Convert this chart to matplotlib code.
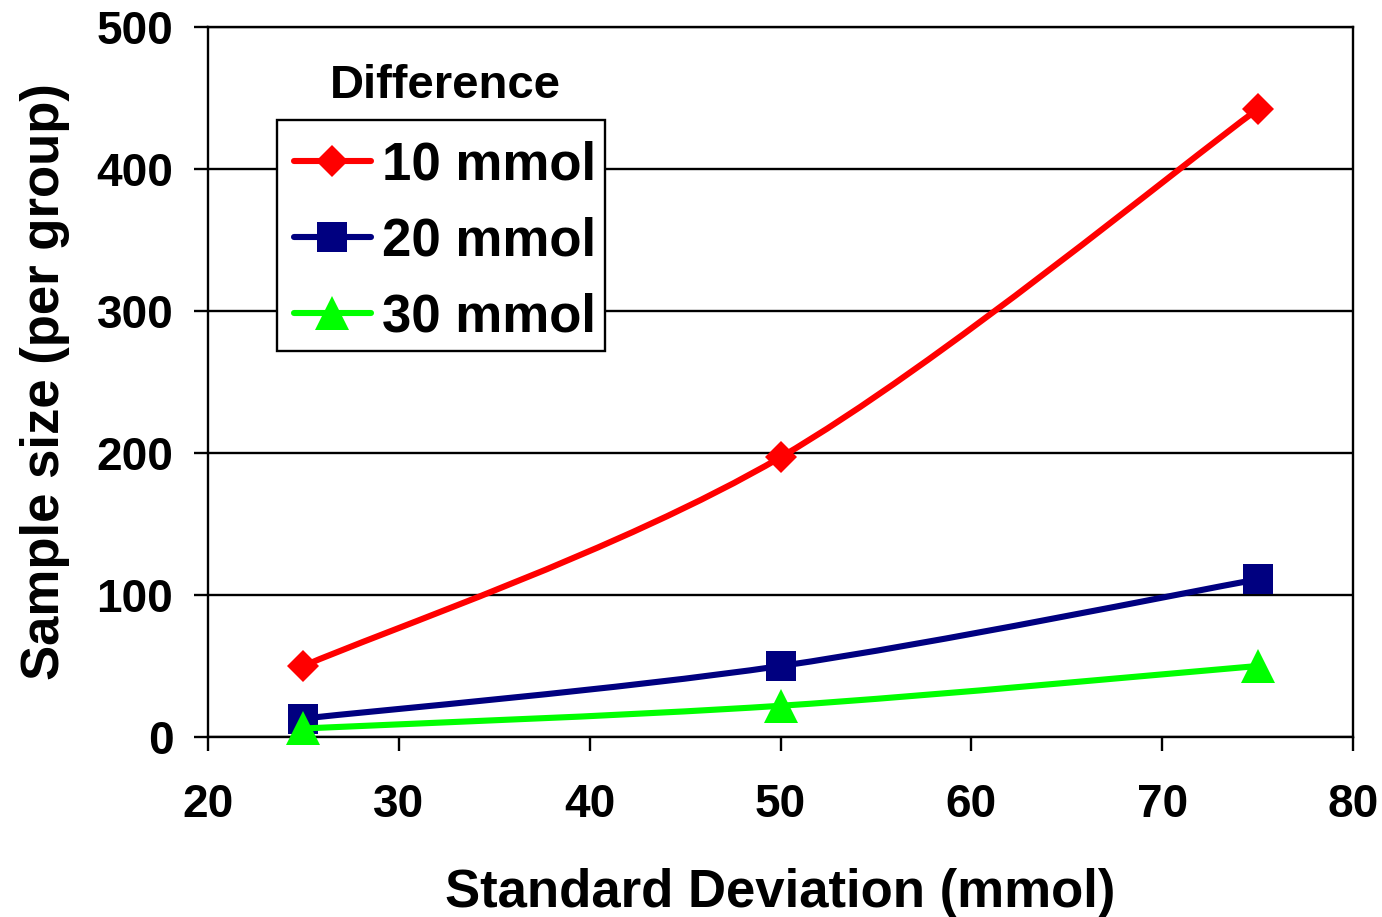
import numpy as np
import matplotlib
matplotlib.use('Agg')
import matplotlib.pyplot as plt
from matplotlib.path import Path
from matplotlib.patches import PathPatch, Rectangle
from matplotlib.lines import Line2D

plt.rcParams['font.family'] = ['Liberation Sans', 'DejaVu Sans']
plt.rcParams['font.weight'] = 'bold'

sd = [25, 50, 75]
n_10 = [50, 197, 442]
n_20 = [13, 50, 111]
n_30 = [6, 22, 50]
labels = ['10 mmol', '20 mmol', '30 mmol']
colors = ['#FF0000', '#000080', '#00FF00']
markers = ['D', 's', '^']
msizes = [16.5, 21.5, 24]


def smooth_path(x, y):
    # Excel style smoothed line: cubic bezier through the points
    p = np.column_stack([x, y]).astype(float)
    n = len(p)
    verts = [p[0]]
    codes = [Path.MOVETO]
    for i in range(n - 1):
        p_prev = p[max(i - 1, 0)]
        p_next2 = p[min(i + 2, n - 1)]
        c1 = p[i] + (p[i + 1] - p_prev) / 6
        c2 = p[i + 1] - (p_next2 - p[i]) / 6
        verts += [c1, c2, p[i + 1]]
        codes += [Path.CURVE4] * 3
    return Path(verts, codes)


W, H = 1382, 917
fig = plt.figure(figsize=(W / 100, H / 100), dpi=100)
ax = fig.add_axes([208 / W, 1 - 737 / H, (1353 - 208) / W, 710 / H])

handles = []
for k, ys in enumerate([n_10, n_20, n_30]):
    patch = PathPatch(smooth_path(sd, ys), fill=False, edgecolor=colors[k],
                      lw=4.4, capstyle='round', joinstyle='round',
                      zorder=3 + 2 * k)
    ax.add_patch(patch)
    ax.plot(sd, ys, linestyle='none', marker=markers[k], ms=msizes[k],
            color=colors[k], markeredgewidth=0, clip_on=False, zorder=4 + 2 * k)
    handles.append(Line2D([], [], color=colors[k], lw=4.4, marker=markers[k],
                          ms=msizes[k], markeredgewidth=0,
                          solid_capstyle='round'))

ax.set_xlim(20, 80)
ax.set_ylim(0, 500)
ax.set_xticks(range(20, 81, 10))
ax.set_yticks(range(0, 501, 100))
ax.yaxis.grid(True, color='black', lw=1.7)
ax.set_axisbelow(True)
for s in ax.spines.values():
    s.set_linewidth(1.7)
    s.set_color('black')
ax.tick_params(axis='both', direction='out', length=10, width=1.7,
               labelsize=33)
ax.tick_params(axis='y', pad=15)
ax.tick_params(axis='x', pad=23)

ax.set_xlabel('Standard Deviation (mmol)', fontsize=38, fontweight='bold',
              labelpad=30)
ax.set_ylabel('Sample size (per group)', fontsize=38, fontweight='bold',
              labelpad=19)

# legend box drawn separately so its size matches the original
box = Rectangle((277 / W, 1 - 351 / H), (605 - 277) / W, (351 - 120) / H,
                transform=fig.transFigure, facecolor='white',
                edgecolor='black', lw=1.7, zorder=20)
ax.add_patch(box)
leg = ax.legend(handles, labels, loc='upper left',
                bbox_to_anchor=(274 / W, 1 - 120 / H),
                bbox_transform=fig.transFigure, borderaxespad=0,
                fontsize=38, handlelength=1.45, handletextpad=0.22,
                labelspacing=0.5, borderpad=0.38, frameon=False)
leg.set_zorder(21)
fig.text(445 / W, 1 - 86 / H, 'Difference', ha='center', va='center',
         fontsize=34, fontweight='bold')

fig.savefig('out.png', dpi=100)
